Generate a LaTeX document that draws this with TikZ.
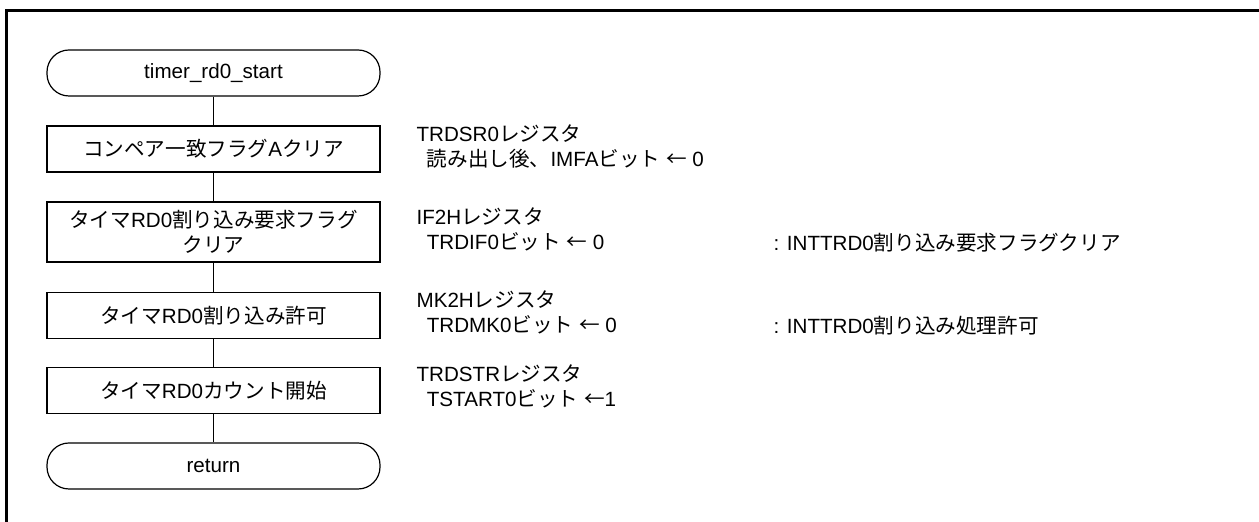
\documentclass[tikz,border=0pt]{standalone}
\usepackage{fontspec}
\setmainfont{Liberation Sans}
\newfontfamily\latfont{Liberation Sans}
\newfontfamily\jpfont{Noto Sans CJK JP}
% Japanese characters switch to the CJK font on their own
\XeTeXinterchartokenstate=1
\newXeTeXintercharclass\jpclass
\newcount\jpc
\XeTeXcharclass"2190=\jpclass
\jpc="3000 \loop\XeTeXcharclass\jpc=\jpclass\advance\jpc by 1 \ifnum\jpc<"3100 \repeat
\jpc="4E00 \loop\XeTeXcharclass\jpc=\jpclass\advance\jpc by 1 \ifnum\jpc<"A000 \repeat
\jpc="FF00 \loop\XeTeXcharclass\jpc=\jpclass\advance\jpc by 1 \ifnum\jpc<"FFF0 \repeat
\XeTeXinterchartoks 0 \jpclass = {\jpfont}
\XeTeXinterchartoks 4095 \jpclass = {\jpfont}
\XeTeXinterchartoks \jpclass 0 = {\latfont}
\XeTeXinterchartoks \jpclass 4095 = {\latfont}
\usepackage{tikz}

\begin{document}
\begin{tikzpicture}[x=0.5pt,y=-0.5pt,line width=0.6pt,font=\fontsize{10.3}{12.5}\selectfont]
  \tikzstyle{term}=[draw, rounded corners=11pt, minimum width=166.5pt, minimum height=23pt]
  \tikzstyle{proc}=[draw, minimum width=166.5pt, minimum height=23pt, align=center]
  \tikzstyle{note}=[anchor=north west, inner sep=0pt, align=left]
  \tikzstyle{remark}=[anchor=base west, inner sep=0pt]
  \useasboundingbox (0,0) rectangle (1259,522);
  \draw[line width=1.5pt] (1259,10.5) -- (6.5,10.5) -- (6.5,522);
  \node[term] (start) at (213.5,73)    {timer\_rd0\_start};
  \node[proc] (clr)   at (213.5,149)   {コンペア一致フラグAクリア};
  \node[proc, minimum height=30pt] (ifclr) at (213.5,232) {タイマRD0割り込み要求フラグ\\クリア};
  \node[proc] (mask)  at (213.5,315.5) {タイマRD0割り込み許可};
  \node[proc] (cnt)   at (213.5,390.5) {タイマRD0カウント開始};
  \node[term] (ret)   at (213.5,466)   {return};
  \node[note] (n_clr)   at (416,124) {TRDSR0レジスタ\\\hspace*{0.5em}読み出し後、IMFAビット ← 0};
  \node[note] (n_ifclr) at (416,207) {IF2Hレジスタ\\\hspace*{0.5em}TRDIF0ビット ← 0};
  \node[note] (n_mask)  at (416,290) {MK2Hレジスタ\\\hspace*{0.5em}TRDMK0ビット ← 0};
  \node[note] (n_cnt)   at (416,364) {TRDSTRレジスタ\\\hspace*{0.5em}TSTART0ビット ←1};
  \node[remark] (r_ifclr) at (773,251) {: INTTRD0割り込み要求フラグクリア};
  \node[remark] (r_mask)  at (773,334) {: INTTRD0割り込み処理許可};
  \draw (start) -- (clr) -- (ifclr) -- (mask) -- (cnt) -- (ret);
\end{tikzpicture}
\end{document}
